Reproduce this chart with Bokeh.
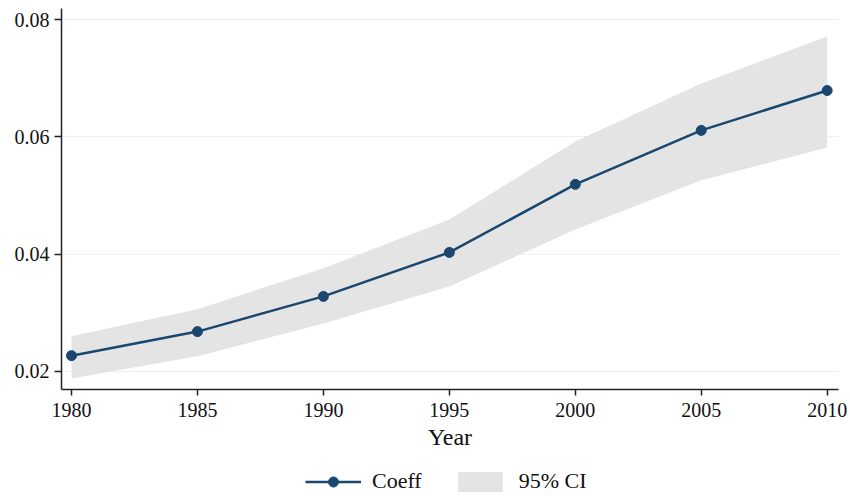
from bokeh.plotting import figure
from bokeh.layouts import column
from bokeh.models import ColumnDataSource, Range1d, FixedTicker, Legend, LegendItem
from bokeh.embed import file_html
from bokeh.resources import INLINE

years = [1980, 1985, 1990, 1995, 2000, 2005, 2010]
coeff = [0.0227, 0.0268, 0.0328, 0.0403, 0.0519, 0.0611, 0.0679]
ci_low = [0.0188, 0.0226, 0.0282, 0.0345, 0.0442, 0.0526, 0.0582]
ci_high = [0.0260, 0.0306, 0.0376, 0.0459, 0.0592, 0.0691, 0.0771]
y_ticks = [0.02, 0.04, 0.06, 0.08]
x_ticks = [1980, 1985, 1990, 1995, 2000, 2005, 2010]
series_labels = ["Coeff", "95% CI"]

src = ColumnDataSource(dict(x=years, y=coeff, lo=ci_low, hi=ci_high))

FONT = "Liberation Serif"
NAVY = "#1a476f"
BAND = "#e4e4e4"

p = figure(output_backend="svg", toolbar_location=None,
           width=850, height=461,
           min_border_left=61, min_border_right=12, min_border_top=8, min_border_bottom=72,
           x_range=Range1d(1979.603, 2010.449), y_range=Range1d(0.01693, 0.08188))
p.outline_line_color = None
p.background_fill_color = "white"

band = p.varea(x="x", y1="lo", y2="hi", source=src, fill_color=BAND, fill_alpha=1.0)
ln = p.line(x="x", y="y", source=src, line_color=NAVY, line_width=2.5)
pts = p.scatter(x="x", y="y", source=src, marker="circle", size=10,
                fill_color=NAVY, line_color=NAVY)

p.xgrid.grid_line_color = None
p.ygrid.grid_line_color = "#eaf1f2"
p.ygrid.grid_line_width = 1.2

p.xaxis.ticker = FixedTicker(ticks=x_ticks)
p.yaxis.ticker = FixedTicker(ticks=y_ticks)
for ax in (p.xaxis[0], p.yaxis[0]):
    ax.axis_line_color = "#222222"
    ax.axis_line_width = 1.5
    ax.major_tick_line_color = "#222222"
    ax.major_tick_line_width = 1.5
    ax.major_tick_out = 6
    ax.major_tick_in = 0
    ax.minor_tick_line_color = None
    ax.major_label_text_font = FONT
    ax.major_label_text_font_size = "20px"
    ax.major_label_text_color = "#111111"
p.xaxis.major_label_standoff = 7
p.yaxis.major_label_standoff = 5
p.yaxis.major_tick_out = 7

p.xaxis.axis_label = "Year"
p.xaxis.axis_label_text_font = FONT
p.xaxis.axis_label_text_font_size = "24px"
p.xaxis.axis_label_text_font_style = "normal"
p.xaxis.axis_label_text_color = "#111111"
p.xaxis.axis_label_standoff = 4

# legend strip below the chart (same data, out of view, only for legend keys)
lg = figure(output_backend="svg", toolbar_location=None, width=850, height=35,
            min_border=0, x_axis_type=None, y_axis_type=None,
            x_range=Range1d(0, 1), y_range=Range1d(0, 1))
lg.grid.grid_line_color = None
lg.outline_line_color = None
l_band = lg.varea(x="x", y1="lo", y2="hi", source=src, fill_color=BAND, fill_alpha=1.0)
l_ln = lg.line(x="x", y="y", source=src, line_color=NAVY, line_width=2.5)
l_pts = lg.scatter(x="x", y="y", source=src, marker="circle", size=10,
                   fill_color=NAVY, line_color=NAVY)

legend = Legend(items=[LegendItem(label=series_labels[0], renderers=[l_ln, l_pts]),
                       LegendItem(label=series_labels[1], renderers=[l_band])],
                orientation="horizontal", location=(244, 2),
                label_text_font=FONT, label_text_font_size="22px",
                label_text_color="#111111",
                glyph_width=56, glyph_height=25, label_standoff=11, spacing=30,
                padding=0, margin=0, border_line_color=None,
                background_fill_alpha=0)
lg.add_layout(legend, "center")

open("out.html", "w").write(file_html(column(p, lg, spacing=0), INLINE))
